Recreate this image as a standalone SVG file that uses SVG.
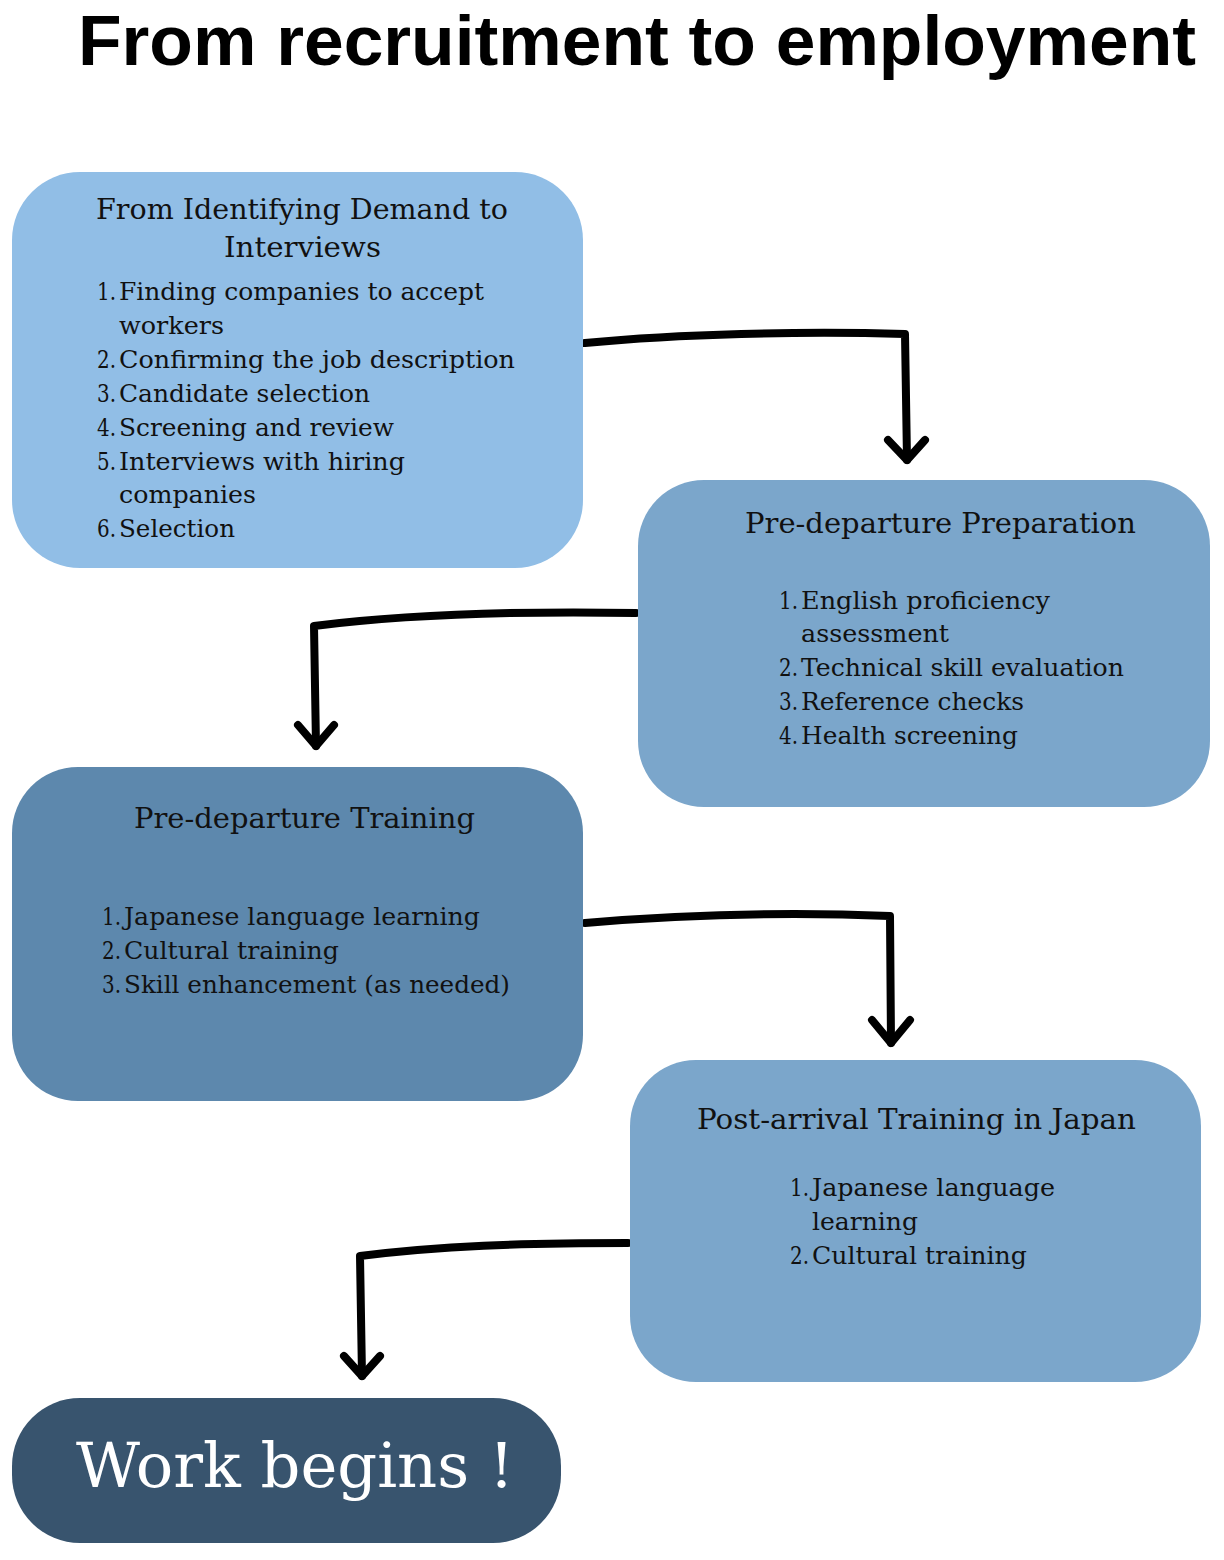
<svg xmlns="http://www.w3.org/2000/svg" width="1224" height="1560" viewBox="0 0 1224 1560">
<style>
.t{font-family:"DejaVu Serif","Liberation Serif",serif;fill:#111}
.h{font-size:27px}
.l{font-size:24.5px}
.n{font-size:24.5px;text-anchor:end}
.c{fill:none;stroke:#000;stroke-width:8;stroke-linecap:round;stroke-linejoin:round}
</style>
<rect width="1224" height="1560" fill="#fff"/>
<text x="78" y="65" font-family="Liberation Sans, Arial, sans-serif" font-weight="bold" font-size="70" fill="#000" textLength="1118" lengthAdjust="spacingAndGlyphs">From recruitment to employment</text>

<g id="connectors">
<path class="c" d="M585 343 C680 334 800 331 905 334 L907 460"/>
<path class="c" d="M888 440 L907 460 L925 440"/>
<path class="c" d="M636 613 C520 611 410 614 314 626 L316 746"/>
<path class="c" d="M298 725 L316 746 L334 725"/>
<path class="c" d="M585 923 C680 915 790 912 890 916 L891 1043"/>
<path class="c" d="M872 1020 L891 1043 L910 1020"/>
<path class="c" d="M628 1243 C520 1243 440 1246 360 1256 L362 1376"/>
<path class="c" d="M344 1356 L362 1376 L380 1356"/>
</g>

<g id="node1">
<rect x="12" y="172" width="571" height="396" rx="68" fill="#91BEE6"/>
<text class="t h" x="96" y="219" textLength="412" lengthAdjust="spacingAndGlyphs">From Identifying Demand to</text>
<text class="t h" x="224" y="257" textLength="157" lengthAdjust="spacingAndGlyphs">Interviews</text>
<text class="t n" x="116" y="300" textLength="19" lengthAdjust="spacingAndGlyphs">1.</text>
<text class="t l" x="119" y="300" textLength="365" lengthAdjust="spacingAndGlyphs">Finding companies to accept</text>
<text class="t l" x="119" y="334" textLength="105" lengthAdjust="spacingAndGlyphs">workers</text>
<text class="t n" x="116" y="368" textLength="19" lengthAdjust="spacingAndGlyphs">2.</text>
<text class="t l" x="119" y="368" textLength="396" lengthAdjust="spacingAndGlyphs">Confirming the job description</text>
<text class="t n" x="116" y="402" textLength="19" lengthAdjust="spacingAndGlyphs">3.</text>
<text class="t l" x="119" y="402" textLength="251" lengthAdjust="spacingAndGlyphs">Candidate selection</text>
<text class="t n" x="116" y="436" textLength="19" lengthAdjust="spacingAndGlyphs">4.</text>
<text class="t l" x="119" y="436" textLength="275" lengthAdjust="spacingAndGlyphs">Screening and review</text>
<text class="t n" x="116" y="470" textLength="19" lengthAdjust="spacingAndGlyphs">5.</text>
<text class="t l" x="119" y="470" textLength="286" lengthAdjust="spacingAndGlyphs">Interviews with hiring</text>
<text class="t l" x="119" y="503" textLength="137" lengthAdjust="spacingAndGlyphs">companies</text>
<text class="t n" x="116" y="537" textLength="19" lengthAdjust="spacingAndGlyphs">6.</text>
<text class="t l" x="119" y="537" textLength="116" lengthAdjust="spacingAndGlyphs">Selection</text>
</g>

<g id="node2">
<rect x="638" y="480" width="572" height="327" rx="66" fill="#7BA6CB"/>
<text class="t h" x="745" y="533" textLength="391" lengthAdjust="spacingAndGlyphs">Pre-departure Preparation</text>
<text class="t n" x="798" y="609" textLength="19" lengthAdjust="spacingAndGlyphs">1.</text>
<text class="t l" x="801" y="609" textLength="249" lengthAdjust="spacingAndGlyphs">English proficiency</text>
<text class="t l" x="801" y="642" textLength="148" lengthAdjust="spacingAndGlyphs">assessment</text>
<text class="t n" x="798" y="676" textLength="19" lengthAdjust="spacingAndGlyphs">2.</text>
<text class="t l" x="801" y="676" textLength="323" lengthAdjust="spacingAndGlyphs">Technical skill evaluation</text>
<text class="t n" x="798" y="710" textLength="19" lengthAdjust="spacingAndGlyphs">3.</text>
<text class="t l" x="801" y="710" textLength="223" lengthAdjust="spacingAndGlyphs">Reference checks</text>
<text class="t n" x="798" y="744" textLength="19" lengthAdjust="spacingAndGlyphs">4.</text>
<text class="t l" x="801" y="744" textLength="217" lengthAdjust="spacingAndGlyphs">Health screening</text>
</g>

<g id="node3">
<rect x="12" y="767" width="571" height="334" rx="66" fill="#5D88AD"/>
<text class="t h" x="134" y="828" textLength="341" lengthAdjust="spacingAndGlyphs">Pre-departure Training</text>
<text class="t n" x="121" y="925" textLength="19" lengthAdjust="spacingAndGlyphs">1.</text>
<text class="t l" x="124" y="925" textLength="356" lengthAdjust="spacingAndGlyphs">Japanese language learning</text>
<text class="t n" x="121" y="959" textLength="19" lengthAdjust="spacingAndGlyphs">2.</text>
<text class="t l" x="124" y="959" textLength="215" lengthAdjust="spacingAndGlyphs">Cultural training</text>
<text class="t n" x="121" y="993" textLength="19" lengthAdjust="spacingAndGlyphs">3.</text>
<text class="t l" x="124" y="993" textLength="386" lengthAdjust="spacingAndGlyphs">Skill enhancement (as needed)</text>
</g>

<g id="node4">
<rect x="630" y="1060" width="571" height="322" rx="66" fill="#7BA6CB"/>
<text class="t h" x="697" y="1129" textLength="439" lengthAdjust="spacingAndGlyphs">Post-arrival Training in Japan</text>
<text class="t n" x="809" y="1196" textLength="19" lengthAdjust="spacingAndGlyphs">1.</text>
<text class="t l" x="812" y="1196" textLength="243" lengthAdjust="spacingAndGlyphs">Japanese language</text>
<text class="t l" x="812" y="1230" textLength="106" lengthAdjust="spacingAndGlyphs">learning</text>
<text class="t n" x="809" y="1264" textLength="19" lengthAdjust="spacingAndGlyphs">2.</text>
<text class="t l" x="812" y="1264" textLength="215" lengthAdjust="spacingAndGlyphs">Cultural training</text>
</g>

<g id="node5">
<rect x="12" y="1398" width="549" height="145" rx="68" fill="#38546E"/>
<text x="76" y="1487" font-family="DejaVu Serif, Liberation Serif, serif" font-size="62" fill="#fff" textLength="438" lengthAdjust="spacingAndGlyphs">Work begins !</text>
</g>
</svg>
